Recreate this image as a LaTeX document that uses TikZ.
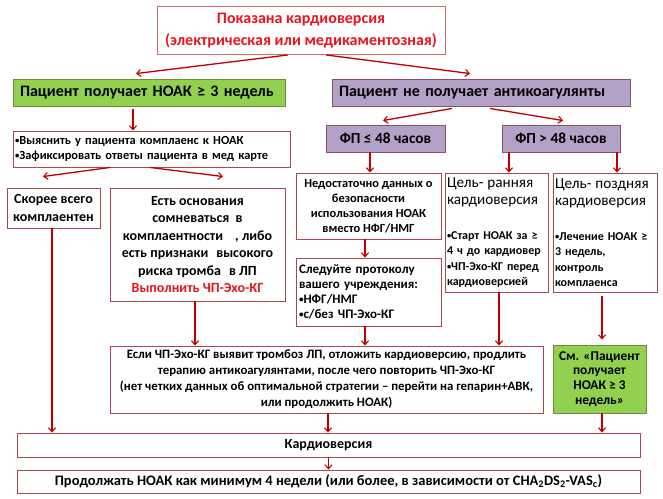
\documentclass[tikz,border=0pt]{standalone}
\usepackage{fontspec}
\setmainfont{Carlito}
\usetikzlibrary{arrows.meta,calc}
\definecolor{arrc}{RGB}{192,0,0}
\definecolor{redtxt}{RGB}{232,20,30}
\definecolor{boxline}{RGB}{165,75,80}
\definecolor{topline}{RGB}{205,110,110}
\definecolor{gfill}{RGB}{146,208,80}
\definecolor{gline}{RGB}{113,137,63}
\definecolor{pfill}{RGB}{179,162,199}
\definecolor{pline}{RGB}{140,80,100}
\tikzset{
  box/.style={draw=boxline, line width=0.9pt, fill=white, inner sep=0pt, font=\bfseries},
  gbox/.style={draw=gline, line width=0.9pt, fill=gfill, inner sep=0pt, font=\bfseries},
  pbox/.style={draw=pline, line width=0.9pt, fill=pfill, inner sep=0pt, font=\bfseries},
  arr/.style={draw=arrc, line width=1.3pt, -{Straight Barb[length=4pt,width=7pt,line width=1.1pt]}},
  fsask/.style={font=\bfseries\fontsize{12.4}{15}\selectfont},
  fsins/.style={font=\bfseries\fontsize{12.4}{15}\selectfont},
  fsfol/.style={font=\bfseries\fontsize{13}{15}\selectfont},
  fsif/.style={font=\bfseries\fontsize{12.8}{16}\selectfont},
  fssee/.style={font=\bfseries\fontsize{13.4}{14.8}\selectfont},
  fs12/.style={font=\bfseries\fontsize{12}{15.5}\selectfont},
  fs14/.style={font=\bfseries\fontsize{14}{17.5}\selectfont},
  fs15/.style={font=\bfseries\fontsize{15.3}{18}\selectfont},
  fs16/.style={font=\bfseries\fontsize{16}{19}\selectfont},
}
\newcommand{\hdfont}{\mdseries\fontsize{15.2}{17.5}\selectfont}
\newcommand{\bul}{\raisebox{0.12ex}{\scalebox{0.7}{•}}}
\begin{document}
\begin{tikzpicture}[x=1pt,y=-1pt]
\useasboundingbox (0,0) rectangle (663,498);
\fill[white] (0,0) rectangle (663,498);
% nodes
\node[box, draw=topline, minimum width=288pt, minimum height=48pt, align=center,
  font=\bfseries\fontsize{16}{22.5}\selectfont, text=redtxt] (top) at (301,30.5)
  {Показана кардиоверсия\\(электрическая или медикаментозная)};
\node[gbox, minimum width=272pt, minimum height=27pt, text width=258pt, align=left, fs16] (g1) at (149,92.5)
  {Пациент получает НОАК ≥ 3 недель};
\node[pbox, minimum width=298pt, minimum height=27pt, text width=284pt, align=left, fs16] (p1) at (481,92.5)
  {Пациент не получает антикоагулянты};
\node[box, minimum width=277pt, minimum height=36pt, text width=273pt, align=left, fsask] (ask) at (151.5,149)
  {\bul Выяснить у пациента комплаенс к НОАК\\\bul Зафиксировать ответы пациента в мед карте};
\node[pbox, minimum width=119pt, minimum height=27pt, fs15] (f1) at (385.5,138.5) {ФП ≤ 48 часов};
\node[pbox, minimum width=118pt, minimum height=27pt, fs15] (f2) at (561,138.5) {ФП > 48 часов};
\node[box, minimum width=93pt, minimum height=40pt, align=center, fs14] (likely) at (53.5,208)
  {Скорее всего\\комплаентен};
\node[box, minimum width=175pt, minimum height=113pt, align=center, fs14] (doubt) at (197.5,244.5)
  {Есть основания\\сомневаться\ \ в\\комплаентности\hspace{12pt}, либо\\есть признаки\hspace{8pt}высокого\\риска тромба\hspace{8pt}в ЛП\\\textcolor{redtxt}{Выполнить ЧП-Эхо-КГ}};
\node[box, minimum width=145pt, minimum height=66pt, align=center, fsins] (insuf) at (368.5,206)
  {Недостаточно данных о\\безопасности\\использования НОАК\\вместо НФГ/НМГ};
\node[box, minimum width=145pt, minimum height=68pt, text width=139pt, align=left, fsfol] (follow) at (368.5,292)
  {Следуйте протоколу\\вашего учреждения:\\\bul НФГ/НМГ\\\bul с/без ЧП-Эхо-КГ};
\node[box, minimum width=103pt, minimum height=119pt, text width=99pt, align=left, fs12] (early) at (496.5,232.5)
  {{\hdfont Цель- ранняя\\кардиоверсия\\[19pt]}
   \bul Старт НОАК за ≥\\4 ч до кардиовер\\\bul ЧП-Эхо-КГ перед\\кардиоверсией};
\node[box, minimum width=104pt, minimum height=119pt, text width=100pt, align=left, fs12] (late) at (605,232.5)
  {{\hdfont Цель- поздняя\\кардиоверсия\\[19pt]}
   \bul Лечение НОАК ≥\\3 недель,\\контроль\\комплаенса};
\node[box, minimum width=433pt, minimum height=67pt, align=center, fsif] (ifte) at (326.5,379.5)
  {Если ЧП-Эхо-КГ выявит тромбоз ЛП, отложить кардиоверсию, продлить\\терапию антикоагулянтами, после чего повторить ЧП-Эхо-КГ\\(нет четких данных об оптимальной стратегии – перейти на гепарин+АВК,\\или продолжить НОАК)};
\node[gbox, minimum width=93pt, minimum height=68pt, align=center, fssee] (see) at (599.5,379)
  {См. «Пациент\\получает\\НОАК ≥ 3\\недель»};
\node[box, minimum width=623pt, minimum height=24pt, fs14] (cv) at (328.5,445) {Кардиоверсия};
\node[box, minimum width=623pt, minimum height=23pt, font=\bfseries\fontsize{14.5}{16}\selectfont] (cont) at (328.5,481.5)
  {Продолжать НОАК как минимум 4 недели (или более, в зависимости от CHA\textsubscript{2}DS\textsubscript{2}-VAS\textsubscript{c})};
% connectors
\draw[arr] ([xshift=-13pt]top.south) -- ([xshift=-13pt,yshift=5pt]g1.north);
\draw[arr] ([xshift=25pt]top.south) -- ([xshift=-11pt,yshift=5pt]p1.north);
\draw[arr] ([xshift=-16pt,yshift=-3pt]g1.south) -- ([xshift=-16pt]g1.south |- ask.north);
\draw[arr] ([xshift=-41.5pt]ask.south) -- ([xshift=-10.5pt,yshift=11pt]likely.north);
\draw[arr] ([xshift=-1.5pt]ask.south) -- ([xshift=25.5pt,yshift=11pt]doubt.north);
\draw[arr] ([xshift=-29pt,yshift=-2pt]p1.south) -- ([xshift=-2.5pt,yshift=4pt]f1.north);
\draw[arr] ([xshift=9pt,yshift=-2pt]p1.south) -- ([xshift=2pt,yshift=4pt]f2.north);
\draw[arr] ([xshift=-15.5pt]f1.south) -- ([xshift=-15.5pt]f1.south |- insuf.north);
\draw[arr] ([xshift=-52pt]f2.south) -- ([xshift=-52pt]f2.south |- early.north);
\draw[arr] ([xshift=56pt]f2.south) -- ([xshift=56pt]f2.south |- late.north);
\draw[arr] ([xshift=-3.5pt]insuf.south) -- ([xshift=-3.5pt]insuf.south |- follow.north);
\draw[arr] ([xshift=-3.5pt]follow.south) -- ([xshift=-3.5pt]follow.south |- ifte.north);
\draw[arr] ([xshift=2.5pt]early.south) -- ([xshift=2.5pt]early.south |- ifte.north);
\draw[arr] ([xshift=-3pt,yshift=-4pt]late.south) -- ([xshift=2.5pt,yshift=5pt]see.north);
\draw[arr] ([xshift=-1.5pt]likely.south) -- ([xshift=-1.5pt]likely.south |- cv.north);
\draw[arr] ([xshift=-2.5pt]doubt.south) -- ([xshift=-2.5pt]doubt.south |- ifte.north);
\draw[arr] ([xshift=1.5pt]ifte.south) -- ([xshift=1.5pt]ifte.south |- cv.north);
\draw[arr] ([xshift=2.5pt]see.south) -- ([xshift=2.5pt]see.south |- cv.north);
\draw[arr] (cv.south) -- (cont.north);
\end{tikzpicture}
\end{document}
